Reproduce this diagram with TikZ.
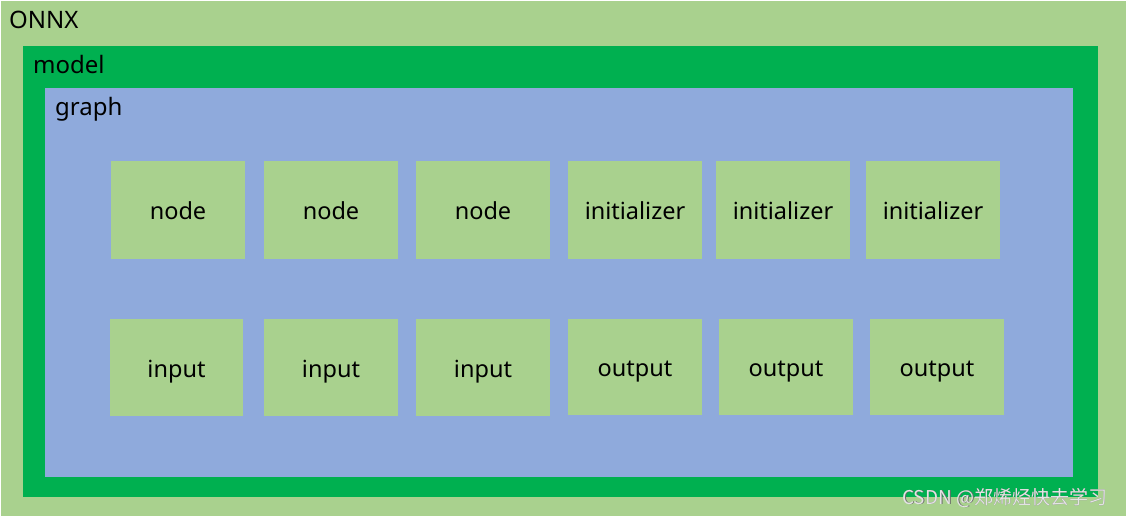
\documentclass[tikz,border=0pt]{standalone}
\usepackage{fontspec}
\setmainfont{Noto Sans}
\newfontfamily\cjkfont{Noto Sans CJK SC}
\definecolor{lightgreen}{HTML}{A9D18E}
\definecolor{modelgreen}{HTML}{00B050}
\definecolor{graphblue}{HTML}{8FAADC}
\definecolor{wmark}{HTML}{E4E4E4}
\definecolor{wshadow}{HTML}{6A6A6A}
\tikzset{
  itembox/.style={fill=lightgreen, draw=none, inner sep=0pt, anchor=center,
    font=\fontsize{23.5}{27}\selectfont, text=black, text height=19pt, text depth=0pt},
  lbl/.style={anchor=base west, inner sep=0pt, font=\fontsize{24}{28}\selectfont, text=black},
}
\begin{document}
\begin{tikzpicture}[x=1pt,y=-1pt]
\useasboundingbox (0,0) rectangle (1127,517);
\fill[white] (0,0) rectangle (1127,517);
\fill[lightgreen] (1,1) rectangle (1126,516);
\fill[modelgreen] (23,46) rectangle (1098,497);
\fill[graphblue] (45,88) rectangle (1073,477);
\node[lbl] (onnx) at (9,28) {ONNX};
\node[lbl] (model) at (33,73) {model};
\node[lbl] (graph) at (55,115) {graph};
% row 1
\node[itembox, minimum width=134pt, minimum height=97.5pt] (n1) at (178,209.8) {node};
\node[itembox, minimum width=134pt, minimum height=97.5pt] (n2) at (331,209.8) {node};
\node[itembox, minimum width=134pt, minimum height=97.5pt] (n3) at (483,209.8) {node};
\node[itembox, minimum width=134pt, minimum height=97.5pt] (i1) at (635,209.8) {initializer};
\node[itembox, minimum width=134pt, minimum height=97.5pt] (i2) at (783,209.8) {initializer};
\node[itembox, minimum width=134pt, minimum height=97.5pt] (i3) at (933,209.8) {initializer};
% row 2
\node[itembox, minimum width=133pt, minimum height=97.5pt] (in1) at (176.5,367.6) {input};
\node[itembox, minimum width=134pt, minimum height=97.5pt] (in2) at (331,367.6) {input};
\node[itembox, minimum width=134pt, minimum height=97.5pt] (in3) at (483,367.6) {input};
\node[itembox, minimum width=134pt, minimum height=96.5pt] (o1) at (635,367.2) {output};
\node[itembox, minimum width=134pt, minimum height=96.5pt] (o2) at (786,367.2) {output};
\node[itembox, minimum width=134pt, minimum height=96.5pt] (o3) at (937,367.2) {output};
% watermark
\node[anchor=base west, inner sep=0pt, text=wshadow, font=\cjkfont\fontsize{19}{21}\selectfont] (wms) at (902.8,504.8) {CSDN @郑烯烃快去学习};
\node[anchor=base west, inner sep=0pt, text=wmark, font=\cjkfont\fontsize{19}{21}\selectfont] (wm) at (902,504) {CSDN @郑烯烃快去学习};
\end{tikzpicture}
\end{document}
